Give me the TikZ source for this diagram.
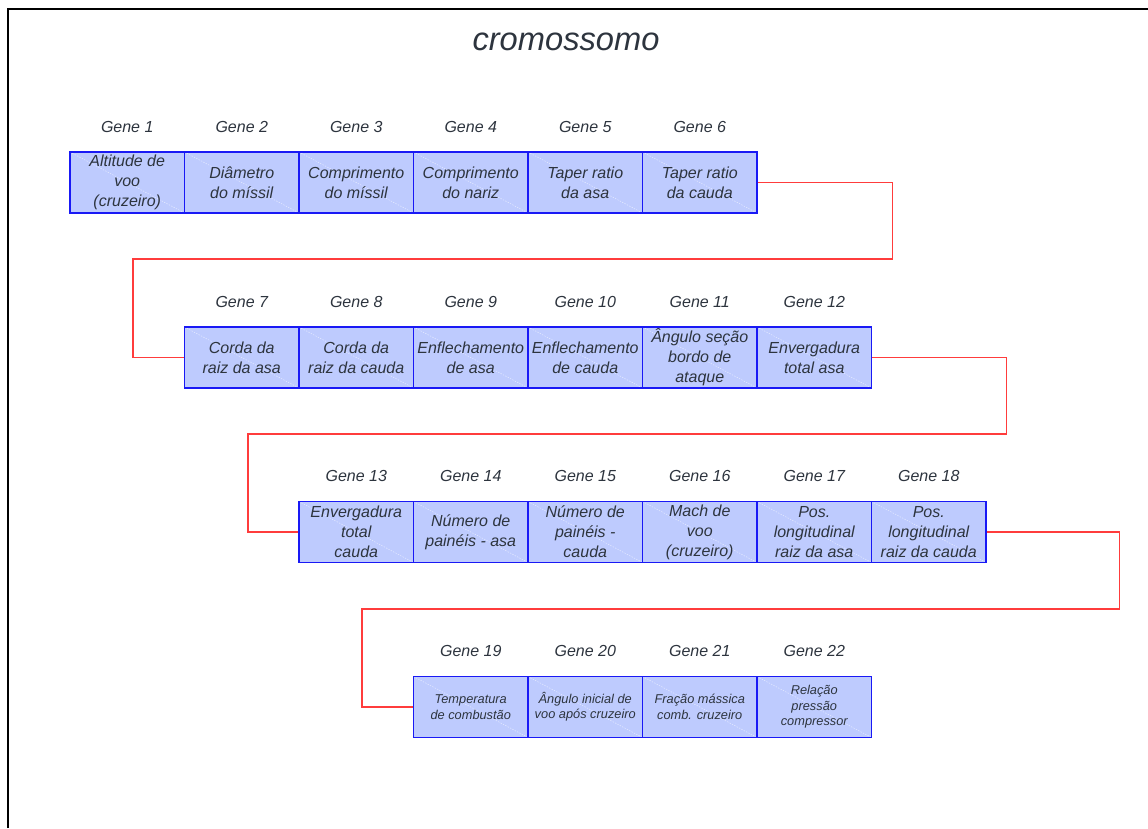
\documentclass[tikz,border=0pt]{standalone}
\usepackage{fontspec}
\setmainfont{Liberation Sans}
\usetikzlibrary{positioning}

\definecolor{genefill}{RGB}{190,203,254}
\definecolor{geneline}{RGB}{25,25,245}
\definecolor{genetext}{RGB}{45,52,62}
\definecolor{linkred}{RGB}{255,60,60}

\tikzset{
	gene/.style={draw=geneline, line width=1.1pt, fill=genefill,
		minimum width=85.9pt, minimum height=45.75pt, inner sep=0pt,
		align=center, text=genetext, font=\itshape\fontsize{12}{15}\selectfont,
		path picture={\draw[white, opacity=.6, line width=0.4pt, dash pattern=on 1pt off 1pt]
			(path picture bounding box.north west) -- (path picture bounding box.south east);}},
	small/.style={font=\itshape\fontsize{9.6}{11.5}\selectfont},
	tag/.style={text=genetext, font=\itshape\fontsize{12}{14}\selectfont, inner sep=0pt},
	link/.style={draw=linkred, line width=0.8pt},
}

\begin{document}
\begin{tikzpicture}[x=0.75pt, y=-0.75pt]
	\useasboundingbox (0,0) rectangle (1148,828);
	\draw[line width=1.2pt] (8,828) -- (8,9) -- (1148,9);
	\node[text=genetext, font=\itshape\fontsize{24.5}{28}\selectfont] (title) at (566,42) {cromossomo};

	% first row
	\node[gene] (g1) at (127.25,182.5) {Altitude de\\voo\\(cruzeiro)};
	\node[gene] (g2) at (241.75,182.5) {Diâmetro\\do míssil};
	\node[gene] (g3) at (356.25,182.5) {Comprimento\\do míssil};
	\node[gene] (g4) at (470.75,182.5) {Comprimento\\do nariz};
	\node[gene] (g5) at (585.25,182.5) {Taper ratio\\da asa};
	\node[gene] (g6) at (699.75,182.5) {Taper ratio\\da cauda};

	% second row
	\node[gene] (g7) at (241.75,357.5) {Corda da\\raiz da asa};
	\node[gene] (g8) at (356.25,357.5) {Corda da\\raiz da cauda};
	\node[gene] (g9) at (470.75,357.5) {Enflechamento\\de asa};
	\node[gene] (g10) at (585.25,357.5) {Enflechamento\\de cauda};
	\node[gene] (g11) at (699.75,357.5) {Ângulo seção\\bordo de\\ataque};
	\node[gene] (g12) at (814.25,357.5) {Envergadura\\total asa};

	% third row
	\node[gene] (g13) at (356.25,532) {Envergadura\\total\\cauda};
	\node[gene] (g14) at (470.75,532) {Número de\\painéis - asa};
	\node[gene] (g15) at (585.25,532) {Número de\\painéis -\\cauda};
	\node[gene] (g16) at (699.75,532) {Mach de\\voo\\(cruzeiro)};
	\node[gene] (g17) at (814.25,532) {Pos.\\longitudinal\\raiz da asa};
	\node[gene] (g18) at (928.75,532) {Pos.\\longitudinal\\raiz da cauda};

	% fourth row
	\node[gene, small] (g19) at (470.75,707) {Temperatura\\de combustão};
	\node[gene, small] (g20) at (585.25,707) {Ângulo inicial de\\voo após cruzeiro};
	\node[gene, small] (g21) at (699.75,707) {Fração mássica\\comb. cruzeiro};
	\node[gene, small] (g22) at (814.25,707) {Relação\\pressão\\compressor};

	% gene numbers
	\node[tag, above=14pt of g1] (n1) {Gene 1};
	\node[tag, above=14pt of g2] (n2) {Gene 2};
	\node[tag, above=14pt of g3] (n3) {Gene 3};
	\node[tag, above=14pt of g4] (n4) {Gene 4};
	\node[tag, above=14pt of g5] (n5) {Gene 5};
	\node[tag, above=14pt of g6] (n6) {Gene 6};
	\node[tag, above=14pt of g7] (n7) {Gene 7};
	\node[tag, above=14pt of g8] (n8) {Gene 8};
	\node[tag, above=14pt of g9] (n9) {Gene 9};
	\node[tag, above=14pt of g10] (n10) {Gene 10};
	\node[tag, above=14pt of g11] (n11) {Gene 11};
	\node[tag, above=14pt of g12] (n12) {Gene 12};
	\node[tag, above=14pt of g13] (n13) {Gene 13};
	\node[tag, above=14pt of g14] (n14) {Gene 14};
	\node[tag, above=14pt of g15] (n15) {Gene 15};
	\node[tag, above=14pt of g16] (n16) {Gene 16};
	\node[tag, above=14pt of g17] (n17) {Gene 17};
	\node[tag, above=14pt of g18] (n18) {Gene 18};
	\node[tag, above=14pt of g19] (n19) {Gene 19};
	\node[tag, above=14pt of g20] (n20) {Gene 20};
	\node[tag, above=14pt of g21] (n21) {Gene 21};
	\node[tag, above=14pt of g22] (n22) {Gene 22};

	% links between rows
	\coordinate (j1) at (133,259);
	\coordinate (j2) at (248,434);
	\coordinate (j3) at (362,609);
	\draw[link] (g6.east) -- ++(135,0) |- (j1) |- (g7.west);
	\draw[link] (g12.east) -- ++(134,0) |- (j2) |- (g13.west);
	\draw[link] (g18.east) -- ++(133,0) |- (j3) |- (g19.west);
\end{tikzpicture}
\end{document}
